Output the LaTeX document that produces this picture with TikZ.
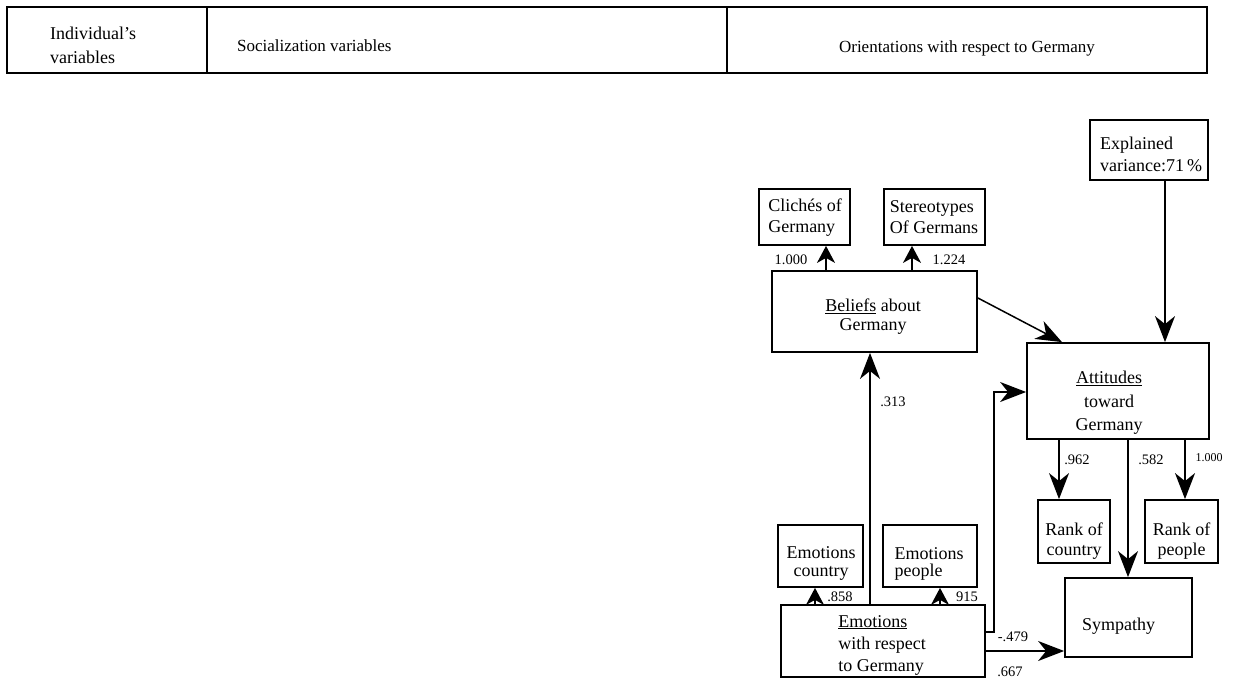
\documentclass[tikz,border=0pt]{standalone}
\usepackage{fontspec}
\setmainfont{Liberation Serif}
\usetikzlibrary{arrows.meta}
\newcommand\fsz[2]{\fontsize{#1}{#2}\selectfont}
\begin{document}
\begin{tikzpicture}[x=1pt,y=-1pt,
  box/.style={draw, line width=1.8pt, inner sep=0pt},
  txt/.style={inner sep=0pt, align=center, font=\fsz{18}{21}},
  lab/.style={inner sep=0pt, font=\fsz{14.5}{16}},
  arr/.style={line width=1.5pt, -{Stealth[length=26pt,width=20pt,inset=8pt]}},
  sarr/.style={line width=1.5pt, -{Stealth[length=17pt,width=18pt,inset=5pt]}}]
\path[use as bounding box, fill=white] (0,0) rectangle (1233,679);

% header
\node[box, minimum width=200pt, minimum height=66pt] (cellA) at (107,40) {};
\node[box, minimum width=520pt, minimum height=66pt] (cellB) at (467,40) {};
\node[box, minimum width=480pt, minimum height=66pt] (cellC) at (967,40) {};
\node[txt, align=left, anchor=west, font=\fsz{18}{24}] (hInd) at (50,45) {Individual's\\variables};
\node[txt, anchor=west, font=\fsz{17}{21}] (hSoc) at (237,46) {Socialization variables};
\node[txt, font=\fsz{17}{21}] (hOri) at (967,48) {Orientations with respect to Germany};

% boxes
\node[box, minimum width=118pt, minimum height=60pt] (expl) at (1149,150) {};
\node[txt, align=left, font=\fsz{18}{22}] (explT) at (1151,154) {Explained\\variance:71\,\%};

\node[box, minimum width=91pt, minimum height=56pt] (cli) at (804.5,217) {};
\node[txt, align=left] (cliT) at (805,217.5) {Clichés of\\Germany};

\node[box, minimum width=101pt, minimum height=56pt] (ste) at (934.5,217) {};
\node[txt, align=left] (steT) at (934,217.5) {Stereotypes\\Of Germans};

\node[box, minimum width=205pt, minimum height=81pt] (bel) at (874.5,311.5) {};
\node[txt, font=\fsz{18}{19}] (belT) at (873,317) {\underline{Beliefs} about\\Germany};

\node[box, minimum width=182pt, minimum height=96pt] (att) at (1118,391) {};
\node[txt, font=\fsz{18}{23.5}] (attT) at (1109,403) {\underline{Attitudes}\\toward\\Germany};

\node[box, minimum width=72pt, minimum height=63pt] (rkc) at (1074,531.5) {};
\node[txt, font=\fsz{18}{20}] (rkcT) at (1074,541) {Rank of\\country};

\node[box, minimum width=73pt, minimum height=63pt] (rkp) at (1181.5,531.5) {};
\node[txt, font=\fsz{18}{20}] (rkpT) at (1181.5,541) {Rank of\\people};

\node[box, minimum width=127pt, minimum height=79pt] (sym) at (1128.5,617.5) {};
\node[txt] (symT) at (1118.5,626) {Sympathy};

\node[box, minimum width=85pt, minimum height=62pt] (emc) at (820.5,556) {};
\node[txt, font=\fsz{18}{18}] (emcT) at (821,563) {Emotions\\country};

\node[box, minimum width=94pt, minimum height=62pt] (emp) at (930,556) {};
\node[txt, align=left, font=\fsz{18}{16.5}] (empT) at (929,564) {Emotions\\people};

\node[box, minimum width=204pt, minimum height=72pt] (emo) at (883,641) {};
\node[txt, align=left, font=\fsz{18}{22}] (emoT) at (882,645) {\underline{Emotions}\\with respect\\to Germany};

% x / y guides
\coordinate (x826) at (826,0);
\coordinate (x912) at (912,0);
\coordinate (x870) at (870,0);
\coordinate (x1165) at (1165,0);
\coordinate (x1059) at (1059,0);
\coordinate (x1128) at (1128,0);
\coordinate (x1185) at (1185,0);
\coordinate (x815) at (815,0);
\coordinate (x940) at (940,0);
\coordinate (y632) at (0,632);
\coordinate (y392) at (0,392);
\coordinate (y651) at (0,651);

% connectors
\draw[sarr] (bel.north -| x826) -- (cli.south -| x826);
\draw[sarr] (bel.north -| x912) -- (ste.south -| x912);
\draw[arr] (emo.north -| x870) -- (bel.south -| x870);
\draw[arr] ([yshift=13.5pt]bel.east) -- ([xshift=-56pt]att.north);
\draw[arr] (expl.south -| x1165) -- (att.north -| x1165);
\draw[arr] (emo.east |- y632) -- ++(8,0) |- (att.west |- y392);
\draw[arr] (emo.east |- y651) -- (sym.west |- y651);
\draw[arr] (att.south -| x1059) -- (rkc.north -| x1059);
\draw[arr] (att.south -| x1128) -- (sym.north -| x1128);
\draw[arr] (att.south -| x1185) -- (rkp.north -| x1185);
\draw[sarr] (emo.north -| x815) -- (emc.south -| x815);
\draw[sarr] (emo.north -| x940) -- (emp.south -| x940);

% labels
\node[lab] (l1) at (791,260) {1.000};
\node[lab] (l2) at (949,260) {1.224};
\node[lab] (l3) at (893,402) {.313};
\node[lab] (l4) at (1077,460) {.962};
\node[lab] (l5) at (1151,460) {.582};
\node[lab, font=\fsz{12}{14}] (l6) at (1209,458) {1.000};
\node[lab] (l7) at (840,597) {.858};
\node[lab] (l8) at (967,597) {915};
\node[lab] (l9) at (1013,637) {-.479};
\node[lab] (l10) at (1010,672) {.667};
\end{tikzpicture}
\end{document}
